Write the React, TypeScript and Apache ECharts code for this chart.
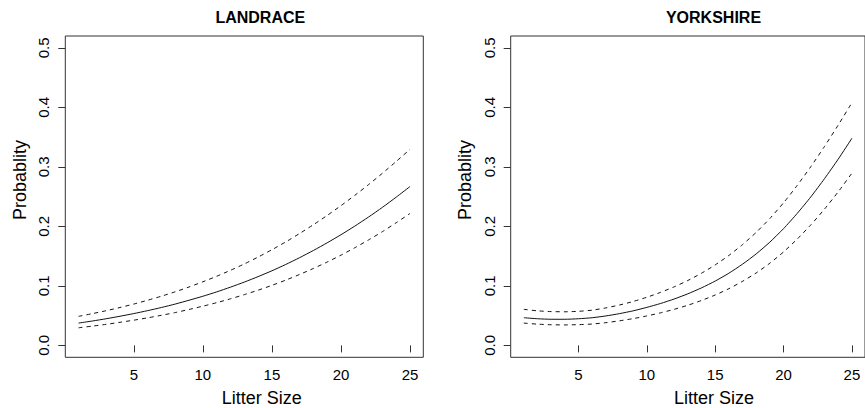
import React, { useEffect, useRef } from "react";
import * as echarts from "echarts";

const litterSize = [1, 2, 3, 4, 5, 6, 7, 8, 9, 10, 11, 12, 13, 14, 15, 16, 17, 18, 19, 20, 21, 22, 23, 24, 25];

const landraceFit = [0.0375, 0.041, 0.0448, 0.049, 0.0535, 0.0584, 0.0637, 0.0695, 0.0759, 0.0826, 0.0899, 0.0979, 0.1064, 0.1156, 0.1254, 0.136, 0.1474, 0.1595, 0.1724, 0.186, 0.2005, 0.2158, 0.232, 0.2492, 0.267];
const landraceUpper = [0.0488, 0.0534, 0.0583, 0.0637, 0.0695, 0.0759, 0.0827, 0.0901, 0.0982, 0.1069, 0.1162, 0.1262, 0.1369, 0.1485, 0.1608, 0.1739, 0.188, 0.2028, 0.2184, 0.2349, 0.2522, 0.2703, 0.2893, 0.3092, 0.3296];
const landraceLower = [0.0296, 0.0324, 0.0354, 0.0388, 0.0424, 0.0463, 0.0506, 0.0552, 0.0604, 0.0659, 0.0718, 0.0783, 0.0853, 0.0928, 0.1009, 0.1097, 0.1192, 0.1293, 0.1401, 0.1517, 0.1641, 0.1773, 0.1912, 0.2062, 0.2218];

const yorkshireFit = [0.0465, 0.0448, 0.0439, 0.0439, 0.0448, 0.0465, 0.0495, 0.0534, 0.0581, 0.0639, 0.0704, 0.078, 0.0867, 0.0967, 0.1081, 0.1213, 0.1365, 0.1538, 0.1736, 0.1962, 0.2218, 0.2497, 0.2803, 0.313, 0.348];
const yorkshireUpper = [0.0606, 0.0581, 0.0568, 0.0565, 0.0573, 0.0592, 0.063, 0.0679, 0.0738, 0.0809, 0.0891, 0.0984, 0.1091, 0.1213, 0.1353, 0.1512, 0.1694, 0.19, 0.2133, 0.2396, 0.2689, 0.3005, 0.3345, 0.3703, 0.4078];
const yorkshireLower = [0.0375, 0.0357, 0.0347, 0.0344, 0.0349, 0.0359, 0.0382, 0.0413, 0.045, 0.0495, 0.0547, 0.0606, 0.0675, 0.0755, 0.0847, 0.0953, 0.1077, 0.1218, 0.1382, 0.1571, 0.1787, 0.2026, 0.2292, 0.2581, 0.2894];

const panelTitles = ["LANDRACE", "YORKSHIRE"];
const xTicks = [5, 10, 15, 20, 25];
const yTicks = [0, 0.1, 0.2, 0.3, 0.4, 0.5];
const xName = "Litter Size";
const yName = "Probablity";

const FONT = "'Liberation Sans', Arial, Helvetica, sans-serif";

function pairs(ys: number[]) {
  return litterSize.map((x, i) => [x, ys[i]]);
}

export default function App() {
  const ref = useRef<HTMLDivElement>(null);
  useEffect(() => {
    document.body.style.margin = "0";
    const chart = echarts.init(ref.current!, null, { renderer: "svg" });
    const grids = [
      { left: 65.3, top: 36, width: 358, height: 321.3 },
      { left: 510.7, top: 36, width: 358.3, height: 321.3 },
    ];
    const xAxes = grids.map((_, i) => ({
      type: "value",
      gridIndex: i,
      min: 0.04,
      max: 25.96,
      axisLine: { show: false },
      splitLine: { show: false },
      axisTick: { show: true, inside: false, length: 7, customValues: xTicks, lineStyle: { color: "#333", width: 1 } },
      axisLabel: {
        customValues: xTicks,
        margin: 10,
        fontSize: 15,
        fontFamily: FONT,
        color: "#000",
        showMinLabel: true,
        showMaxLabel: true,
        hideOverlap: false,
      },
    }));
    const yAxes = grids.map((_, i) => ({
      type: "value",
      gridIndex: i,
      min: -0.02,
      max: 0.52,
      axisLine: { show: false },
      splitLine: { show: false },
      axisTick: { show: true, length: 7, customValues: yTicks, lineStyle: { color: "#333", width: 1 } },
      axisLabel: {
        customValues: yTicks,
        rotate: 90,
        margin: 14,
        fontSize: 15,
        fontFamily: FONT,
        color: "#000",
        formatter: (v: number) => v.toFixed(1),
      },
    }));
    const panels = [
      [landraceFit, landraceUpper, landraceLower],
      [yorkshireFit, yorkshireUpper, yorkshireLower],
    ];
    const series: any[] = [];
    panels.forEach((p, i) => {
      p.forEach((ys, j) => {
        series.push({
          type: "line",
          xAxisIndex: i,
          yAxisIndex: i,
          data: pairs(ys),
          showSymbol: false,
          symbol: "none",
          smooth: 0.2,
          silent: true,
          lineStyle: {
            color: "#111",
            width: 1,
            type: j === 0 ? "solid" : [4, 4],
          },
        });
      });
    });
    const titleX = [260.3, 713.5];
    const xNameX = [261.7, 714];
    const yNameX = [19.5, 464.5];
    const graphic: any[] = [];
    for (let i = 0; i < 2; i++) {
      graphic.push({
        type: "text",
        x: titleX[i],
        y: 17.2,
        style: { text: panelTitles[i], fontSize: 16, fontWeight: "bold", fontFamily: FONT, fill: "#000", align: "center", verticalAlign: "middle" },
      });
      graphic.push({
        type: "text",
        x: xNameX[i],
        y: 398.3,
        style: { text: xName, fontSize: 18, fontFamily: FONT, fill: "#000", align: "center", verticalAlign: "middle" },
      });
      graphic.push({
        type: "text",
        x: yNameX[i],
        y: 180,
        rotation: Math.PI / 2,
        style: { text: yName, fontSize: 18, fontFamily: FONT, fill: "#000", align: "center", verticalAlign: "middle" },
      });
    }
    chart.setOption({
      animation: false,
      backgroundColor: "#fff",
      grid: grids.map((g) => ({ ...g, show: true, borderColor: "#333", borderWidth: 1, backgroundColor: "transparent", containLabel: false })),
      xAxis: xAxes,
      yAxis: yAxes,
      series,
      graphic,
    });
    return () => chart.dispose();
  }, []);
  return <div ref={ref} style={{ width: 865, height: 408, position: "absolute", left: 0, top: 0 }} />;
}
